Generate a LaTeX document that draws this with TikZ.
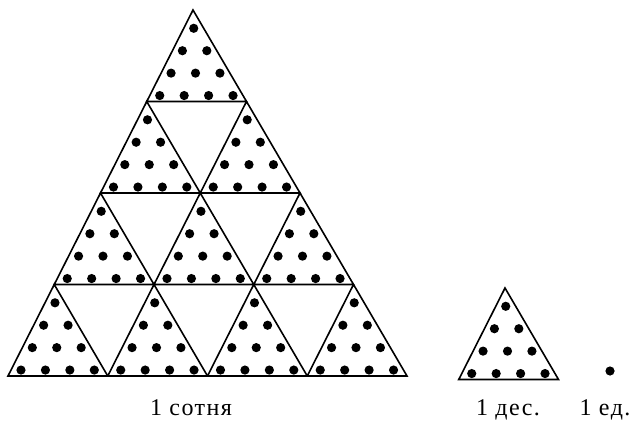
\documentclass[tikz,border=0pt]{standalone}
\usepackage{fontspec}
\setmainfont{Liberation Serif}
\usetikzlibrary{calc}

% one ten: a triangle with ten dots, apex at (#1,#2)
\newcommand{\tentri}[2]{%
  \draw[tri] (#1,#2) -- ++(-46.25,91.5) -- ++(99.75,0) -- cycle;
  \foreach \row in {0,...,3}
    \foreach \col in {0,...,\row}{
      \pgfmathsetmacro{\ds}{0.2+0.245*\row}
      \pgfmathsetmacro{\du}{\ds/2+(\col-\row/2)*0.245}
      \fill[pip] ({#1-46.25*\ds+99.75*\du},{#2+91.5*\ds}) circle[radius=4.6];
    }}

\begin{document}
\begin{tikzpicture}[x=1pt, y=-1pt,
    tri/.style={draw, line width=1.6pt, line join=miter},
    pip/.style={black},
    lbl/.style={anchor=base, inner sep=0pt,
                font=\fontsize{24}{26}\selectfont\addfontfeature{LetterSpace=6}},
  ]
  \useasboundingbox (0,0) rectangle (631,422);

  % hundred: 4 rows of tens
  \foreach \r in {0,...,3}
    \foreach \k in {0,...,\r}{
      \pgfmathsetmacro{\ax}{193-46.25*\r+99.75*\k}
      \pgfmathsetmacro{\ay}{10+91.5*\r}
      \tentri{\ax}{\ay}
    }

  % ten
  \tentri{505}{288}

  % unit
  \fill[pip] (610,371) circle[radius=4.6];

  \node[lbl] (hundred) at (191,415) {1 сотня};
  \node[lbl] (ten)     at (508,415) {1 дес.};
  \node[lbl] (unit)    at (605,415) {1 ед.};
\end{tikzpicture}
\end{document}
